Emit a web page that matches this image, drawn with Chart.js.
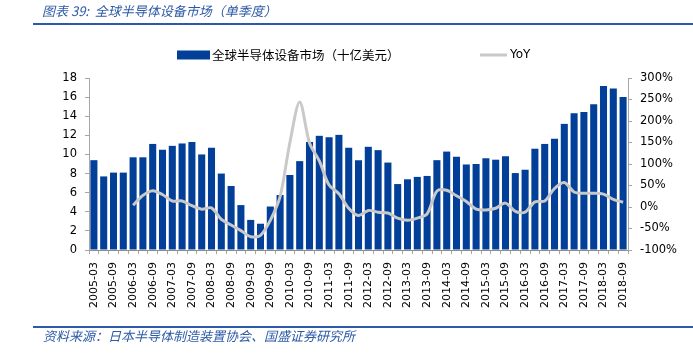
<!DOCTYPE html>
<html>
<head>
<meta charset="utf-8">
<script src="https://cdn.jsdelivr.net/npm/chart.js@4.4.1/dist/chart.umd.min.js"></script>
<style>
  html, body { margin: 0; padding: 0; background: #fff; }
  #wrap { position: relative; width: 693px; height: 356px; overflow: hidden; }
  #chartBox { position: absolute; left: 0; top: 0; width: 693px; height: 356px; }
  .cap { position: absolute; font-family: "Noto Sans CJK SC", sans-serif; font-style: italic; color: #2c5aa8; font-size: 13px; line-height: 16px; white-space: nowrap; }
  .rule { position: absolute; left: 33px; width: 660px; height: 2px; background: #2c5aa8; }
</style>
</head>
<body>
<div id="wrap">
  <div id="chartBox"><canvas id="c"></canvas></div>
  <div class="cap" style="left:42px; top:3px;">图表 39:&nbsp;&nbsp;全球半导体设备市场（单季度）</div>
  <div class="rule" style="top:23px;"></div>
  <div class="rule" style="top:326px;"></div>
  <div class="cap" style="left:43px; top:328px;">资料来源：日本半导体制造装置协会、国盛证券研究所</div>
</div>
<script>
const categories = [
  "2005-03","2005-06","2005-09","2005-12",
  "2006-03","2006-06","2006-09","2006-12",
  "2007-03","2007-06","2007-09","2007-12",
  "2008-03","2008-06","2008-09","2008-12",
  "2009-03","2009-06","2009-09","2009-12",
  "2010-03","2010-06","2010-09","2010-12",
  "2011-03","2011-06","2011-09","2011-12",
  "2012-03","2012-06","2012-09","2012-12",
  "2013-03","2013-06","2013-09","2013-12",
  "2014-03","2014-06","2014-09","2014-12",
  "2015-03","2015-06","2015-09","2015-12",
  "2016-03","2016-06","2016-09","2016-12",
  "2017-03","2017-06","2017-09","2017-12",
  "2018-03","2018-06","2018-09"
];
const marketValues = [
  9.4, 7.7, 8.1, 8.1,
  9.7, 9.7, 11.1, 10.5,
  10.9, 11.15, 11.3, 10.0,
  10.7, 8.0, 6.7, 4.7,
  3.15, 2.75, 4.55, 5.75,
  7.85, 9.3, 11.3, 11.95,
  11.8, 12.05, 10.7, 9.4,
  10.8, 10.45, 9.15, 6.9,
  7.4, 7.65, 7.75, 9.4,
  10.3, 9.75, 8.95, 9.0,
  9.6, 9.45, 9.8, 8.05,
  8.4, 10.6, 11.1, 11.65,
  13.2, 14.3, 14.45, 15.25,
  17.15, 16.9, 16.0
];
const yoyValues = [
  null, null, null, null,
  4, 27, 38, 29,
  14, 14, 3, -5,
  -2, -29, -42, -55,
  -69, -66, -31, 24,
  150, 244, 149, 107,
  51, 31, -3, -20,
  -8, -12, -14, -26,
  -31, -26, -16, 37,
  39, 26, 13, -5,
  -7, -3, 9, -10,
  -12, 12, 14, 43,
  57, 35, 32, 32,
  30, 18, 11
];
const leftTicks = [0, 2, 4, 6, 8, 10, 12, 14, 16, 18];
const rightTicks = [-100, -50, 0, 50, 100, 150, 200, 250, 300];
const seriesNames = ["全球半导体设备市场（十亿美元）", "YoY"];

const BAR_COLOR = "#023f98";
const LINE_COLOR = "#c9c9c9";
const AXIS_COLOR = "#a6a6a6";
const TICK_FONT = { family: "DejaVu Sans", size: 11.5 };

const legendPlugin = {
  id: "customLegend",
  afterDraw(chart) {
    const ctx = chart.ctx;
    const ds = chart.data.datasets;
    ctx.save();
    ctx.fillStyle = ds[0].backgroundColor;
    ctx.fillRect(177, 50.5, 33, 9);
    ctx.fillStyle = "#000";
    ctx.textBaseline = "middle";
    ctx.textAlign = "left";
    ctx.font = '12.5px "Noto Sans CJK SC"';
    ctx.fillText(ds[0].label, 212, 55);
    ctx.strokeStyle = ds[1].borderColor;
    ctx.lineWidth = 3;
    ctx.beginPath();
    ctx.moveTo(480, 55);
    ctx.lineTo(507, 55);
    ctx.stroke();
    ctx.font = '12px "DejaVu Sans"';
    ctx.fillText(ds[1].label, 510, 55);
    ctx.restore();
  }
};

new Chart(document.getElementById("c"), {
  data: {
    labels: categories,
    datasets: [
      {
        type: "bar",
        label: seriesNames[0],
        data: marketValues,
        backgroundColor: BAR_COLOR,
        borderWidth: 0,
        barPercentage: 0.72,
        categoryPercentage: 1.0,
        yAxisID: "y",
        order: 2
      },
      {
        type: "line",
        label: seriesNames[1],
        data: yoyValues,
        borderColor: LINE_COLOR,
        backgroundColor: LINE_COLOR,
        borderWidth: 3,
        pointRadius: 0,
        tension: 0.3,
        yAxisID: "y1",
        order: 1
      }
    ]
  },
  options: {
    responsive: true,
    maintainAspectRatio: false,
    animation: false,
    layout: { padding: { top: 78, left: 0, right: 0, bottom: 0 } },
    plugins: {
      legend: { display: false },
      tooltip: { enabled: false },
      title: { display: false }
    },
    scales: {
      x: {
        grid: { drawOnChartArea: false, drawTicks: true, tickLength: 4, color: AXIS_COLOR, offset: true },
        border: { display: true, color: "#8c8c8c", width: 1 },
        ticks: {
          autoSkip: false,
          maxRotation: 90,
          minRotation: 90,
          padding: 8,
          color: "#000",
          font: { family: "DejaVu Sans", size: 11 },
          callback: function (v, i) { return i % 2 === 0 ? categories[i] : ""; }
        },
        afterFit(scale) { scale.height = 106; }
      },
      y: {
        position: "left",
        min: 0,
        max: 18,
        afterBuildTicks(scale) { scale.ticks = leftTicks.map(v => ({ value: v })); },
        grid: { drawOnChartArea: false, drawTicks: true, tickLength: 4, color: AXIS_COLOR },
        border: { display: true, color: AXIS_COLOR, width: 1 },
        ticks: { padding: 8, color: "#000", font: TICK_FONT },
        afterFit(scale) { scale.width = 89; }
      },
      y1: {
        position: "right",
        min: -100,
        max: 300,
        afterBuildTicks(scale) { scale.ticks = rightTicks.map(v => ({ value: v })); },
        grid: { drawOnChartArea: false, drawTicks: true, tickLength: 4, color: AXIS_COLOR },
        border: { display: true, color: AXIS_COLOR, width: 1 },
        ticks: { padding: 8, color: "#000", font: TICK_FONT, callback: v => v + "%" },
        afterFit(scale) { scale.width = 65; }
      }
    }
  },
  plugins: [legendPlugin]
});
</script>
</body>
</html>
